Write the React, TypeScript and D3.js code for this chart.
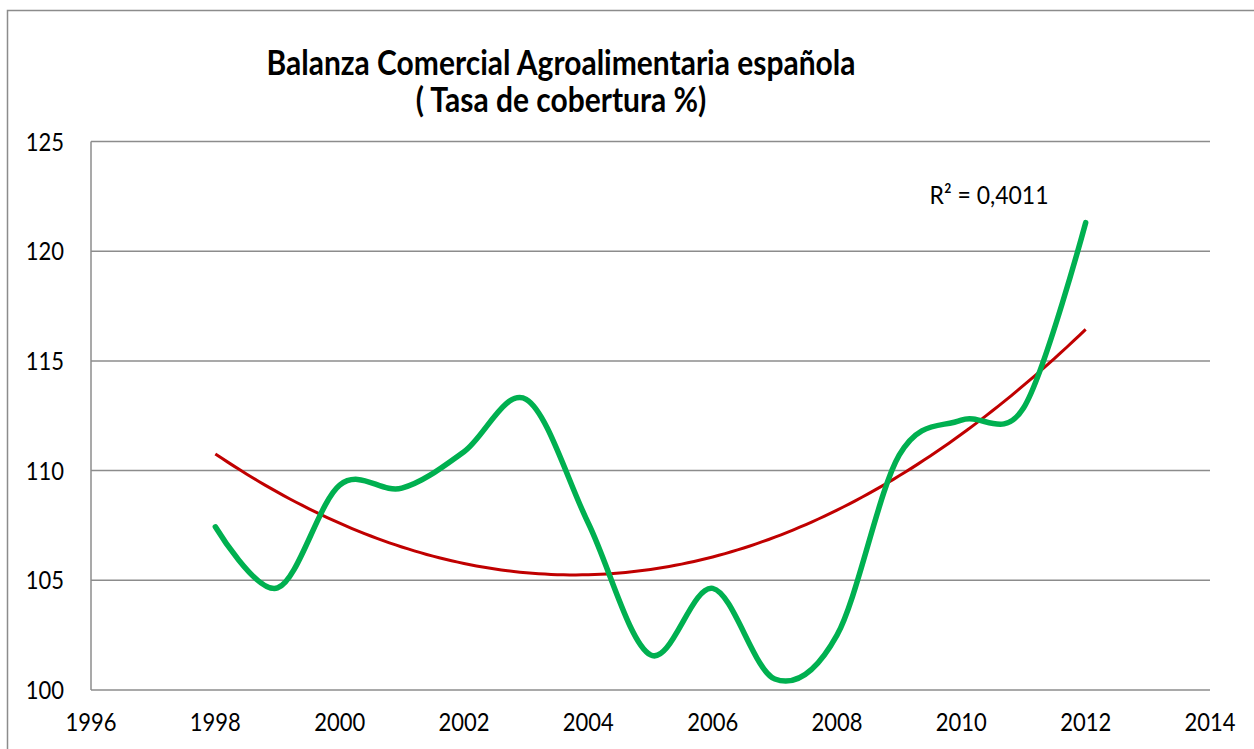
import React from "react";
import * as d3 from "d3";

const years = [1998, 1999, 2000, 2001, 2002, 2003, 2004, 2005, 2006, 2007, 2008, 2009, 2010, 2011, 2012];
const coverage = [107.44, 104.65, 109.34, 109.2, 110.86, 113.25, 107.6, 101.6, 104.63, 100.5, 102.5, 110.7, 112.3, 112.85, 121.3];
const xTicks = [1996, 1998, 2000, 2002, 2004, 2006, 2008, 2010, 2012, 2014];
const yTicks = [100, 105, 110, 115, 120, 125];
const titleLines = ["Balanza Comercial Agroalimentaria española", "( Tasa de cobertura %)"];
const r2Label = "R² = 0,4011";

// quadratic least-squares fit (Excel polynomial trendline, order 2)
function quadFit(xs: number[], ys: number[]) {
  const mx = d3.mean(xs) as number;
  const u = xs.map((x) => x - mx);
  let s0 = 0, s1 = 0, s2 = 0, s3 = 0, s4 = 0, t0 = 0, t1 = 0, t2 = 0;
  u.forEach((v, i) => {
    const y = ys[i];
    s0 += 1; s1 += v; s2 += v * v; s3 += v * v * v; s4 += v * v * v * v;
    t0 += y; t1 += v * y; t2 += v * v * y;
  });
  const M = [
    [s0, s1, s2, t0],
    [s1, s2, s3, t1],
    [s2, s3, s4, t2],
  ];
  for (let i = 0; i < 3; i++) {
    for (let k = i + 1; k < 3; k++) {
      const f = M[k][i] / M[i][i];
      for (let j = i; j < 4; j++) M[k][j] -= f * M[i][j];
    }
  }
  const c = [0, 0, 0];
  for (let i = 2; i >= 0; i--) {
    let s = M[i][3];
    for (let j = i + 1; j < 3; j++) s -= M[i][j] * c[j];
    c[i] = s / M[i][i];
  }
  return (x: number) => c[0] + c[1] * (x - mx) + c[2] * (x - mx) * (x - mx);
}

const font = "Lato, 'Open Sans', sans-serif";

function T(props: { x: number; y: number; k: number; size: number; anchor: string; bold?: boolean; children: React.ReactNode }) {
  return (
    <text
      transform={`translate(${props.x},${props.y}) scale(1,${props.k})`}
      textAnchor={props.anchor as any}
      fontFamily={font}
      fontWeight={props.bold ? "bold" : "normal"}
      fontSize={props.size}
      fill="#000"
    >
      {props.children}
    </text>
  );
}

export default function App() {
  const W = 1254, H = 749;
  const left = 91, right = 1210, top = 141.5, bottom = 690;
  const x = d3.scaleLinear().domain([1996, 2014]).range([left, right]);
  const y = d3.scaleLinear().domain([100, 125]).range([bottom, top]);
  const fit = quadFit(years, coverage);
  const trendPts = d3.range(0, 141).map((i) => {
    const yr = years[0] + ((years[years.length - 1] - years[0]) * i) / 140;
    return [yr, fit(yr)] as [number, number];
  });
  const dataLine = d3
    .line<number>()
    .x((_, i) => x(years[i]))
    .y((d) => y(d))
    .curve(d3.curveCardinal.tension(0));
  const trendLine = d3
    .line<[number, number]>()
    .x((d) => x(d[0]))
    .y((d) => y(d[1]));
  const tk = 1.15;
  return (
    <svg width={W} height={H} style={{ position: "absolute", left: 0, top: 0, background: "#fff" }}>
      <rect x={7.5} y={10.5} width={W + 20} height={H + 20} fill="#fff" stroke="#8c8c8c" strokeWidth={1.5} />
      {yTicks.map((t) => (
        <line key={"g" + t} x1={left} x2={right} y1={y(t)} y2={y(t)} stroke="#8c8c8c" strokeWidth={1.5} />
      ))}
      <line x1={left} x2={left} y1={top} y2={bottom} stroke="#8c8c8c" strokeWidth={1.5} />
      {yTicks.map((t) => (
        <T key={"yl" + t} x={64} y={y(t) + 9} k={tk} size={22} anchor="end">
          {t}
        </T>
      ))}
      {xTicks.map((t) => (
        <T key={"xl" + t} x={x(t)} y={731} k={tk} size={22} anchor="middle">
          {t}
        </T>
      ))}
      <path d={trendLine(trendPts) || ""} fill="none" stroke="#C00000" strokeWidth={3} />
      <path d={dataLine(coverage) || ""} fill="none" stroke="#00B050" strokeWidth={5.5} strokeLinecap="round" strokeLinejoin="round" />
      <T x={989} y={204} k={1.1} size={23} anchor="middle">
        {r2Label}
      </T>
      {titleLines.map((s, i) => (
        <T key={"t" + i} x={561} y={75 + i * 37} k={1.12} size={30} anchor="middle" bold>
          {s}
        </T>
      ))}
    </svg>
  );
}
